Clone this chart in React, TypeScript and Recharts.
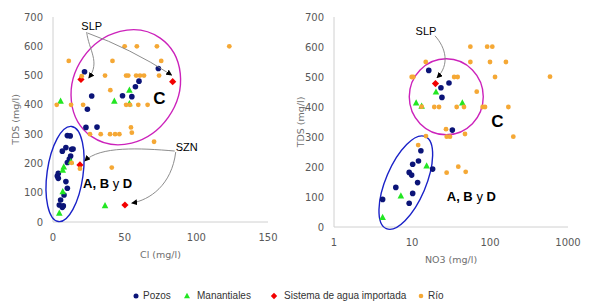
import React from "react";
import { ScatterChart, Scatter, XAxis, YAxis, ReferenceDot } from "recharts";

type Pt = [number, number];

// left chart: [Cl (mg/l), TDS (mg/l)]
const clPozos: Pt[] = [
  [22, 513], [73.5, 524], [60, 481], [57.5, 462], [48.5, 431], [55, 428], [27, 430], [24, 385], [23, 323], [30.7, 324],
  [10, 295], [12, 294], [6.5, 242], [9, 254], [13, 248], [14, 249], [12.3, 225], [11.4, 215], [10, 203],
  [3.7, 166], [3, 157], [3.7, 149], [9, 138], [10, 115], [7.7, 92], [5.3, 75], [4.4, 58], [7.2, 55], [6.5, 50],
];
const clManantiales: Pt[] = [
  [5.3, 413], [42.8, 413], [53.3, 450], [53.3, 404], [36.3, 56], [4.4, 30], [6.8, 104], [6.8, 177], [7.5, 188], [12.5, 206],
];
const clSistema: Pt[] = [[19.5, 487], [83.5, 479], [18.8, 195], [50.2, 58]];
const clRio: Pt[] = [
  [123, 600], [11, 550], [41.5, 550], [50, 600], [58.5, 600], [72.5, 600], [75.5, 550],
  [36.3, 500], [51, 500], [52.5, 500], [58, 500], [60.7, 500], [63.5, 500], [74, 500], [20, 498], [40, 450],
  [2.6, 400], [12.6, 400], [21, 400], [51, 400], [53.7, 400], [59.5, 400], [66, 400],
  [25.8, 300], [33.3, 300], [39.8, 300], [43.3, 300], [46.3, 300], [54.4, 323], [55, 305], [70.5, 274],
  [41, 186], [13, 202], [18.8, 182],
];

// right chart: [NO3 (mg/l), TDS (mg/l)]
const no3Pozos: Pt[] = [
  [16.4, 522], [29.8, 480], [23.5, 464], [24.2, 432], [32.9, 323], [13, 254], [12.1, 220], [10.2, 209],
  [9.2, 182], [9.9, 173], [18.4, 193], [11.8, 148], [6.2, 132], [10.2, 112], [4.2, 92], [9.2, 79],
];
const no3Manantiales: Pt[] = [[20.3, 450], [11.3, 414], [13.3, 403], [44.2, 414], [15.4, 204], [7.2, 104], [4.2, 32]];
const no3Sistema: Pt[] = [[20, 478]];
const no3Rio: Pt[] = [
  [15, 550], [56, 601], [92, 601], [107, 601], [56, 550], [100, 550], [160, 550], [588, 501], [116, 500],
  [9.9, 500], [10.4, 500], [34.7, 500], [38.5, 500], [67.6, 451], [13.3, 401], [19.3, 400], [22.2, 400],
  [37.4, 400], [46.4, 400], [80.5, 400], [86.3, 400], [172, 400], [27.3, 326], [27.9, 301], [30.7, 301],
  [47.8, 310], [199, 301], [15.1, 303], [12, 273], [27.8, 181], [39.2, 201], [48.8, 184],
];

const tdsTicks = [0, 100, 200, 300, 400, 500, 600, 700];
const clTicks = [0, 50, 100, 150];
const no3Ticks = [1, 10, 100, 1000];

const legendItems = ["Pozos", "Manantiales", "Sistema de agua importada", "Río"];

const NAVY = "#0B1478";
const GREEN = "#22E622";
const RED = "#F20000";
const ORANGE = "#F5A835";
const MAGENTA = "#CC22BB";
const BLUE = "#1A22C8";

const rows = (pts: Pt[]) => pts.map(([x, y]) => ({ x, y }));

const circle = (fill: string, r: number) => (p: any) => <circle cx={p.cx} cy={p.cy} r={r} fill={fill} />;
const triangle = (p: any) => (
  <polygon points={`${p.cx},${p.cy - 3.6} ${p.cx + 3.3},${p.cy + 2.6} ${p.cx - 3.3},${p.cy + 2.6}`} fill={GREEN} />
);
const diamond = (p: any) => (
  <polygon points={`${p.cx},${p.cy - 3.6} ${p.cx + 3.6},${p.cy} ${p.cx},${p.cy + 3.6} ${p.cx - 3.6},${p.cy}`} fill={RED} />
);

const ring = (rx: number, ry: number, rot: number, stroke: string) => (p: any) => (
  <ellipse cx={p.cx} cy={p.cy} rx={rx} ry={ry} transform={`rotate(${rot} ${p.cx} ${p.cy})`}
    fill="none" stroke={stroke} strokeWidth={1.4} />
);

const ah = (id: string) => (
  <defs>
    <marker id={id} viewBox="0 0 10 10" refX="9" refY="5" markerWidth="6" markerHeight="6"
      markerUnits="userSpaceOnUse" orient="auto">
      <path d="M0,0 L10,5 L0,10 z" fill="#000" />
    </marker>
  </defs>
);

// text label with arrows, arrow paths are offsets from the label anchor
const callout = (text: string, id: string, paths: string[]) => (p: any) => {
  const { cx, cy } = p;
  const shift = (d: string) =>
    d.replace(/(-?\d+(\.\d+)?),(-?\d+(\.\d+)?)/g, (_m, a, _b, c) => `${cx + Number(a)},${cy + Number(c)}`);
  return (
    <g>
      {ah(id)}
      <text x={cx} y={cy} textAnchor="middle" dominantBaseline="central" fontSize={11}
        fontFamily="Liberation Sans, Arial, sans-serif" fill="#000">{text}</text>
      {paths.map((d, i) => (
        <path key={i} d={shift(d)} fill="none" stroke="#808080" strokeWidth={0.9} markerEnd={`url(#${id})`} />
      ))}
    </g>
  );
};

const bigC = (p: any) => (
  <text x={p.cx} y={p.cy} textAnchor="middle" dominantBaseline="central" fontSize={17} fontWeight="bold"
    fontFamily="Liberation Sans, Arial, sans-serif" fill="#000">C</text>
);
const groupLabel = (p: any) => (
  <text x={p.cx} y={p.cy} dominantBaseline="central" fontSize={13} fontWeight="bold"
    fontFamily="Liberation Sans, Arial, sans-serif" fill="#000">
    A, B <tspan fontWeight="normal">y</tspan> D
  </text>
);

const tick = { fontSize: 10, fill: "#595959", fontFamily: "DejaVu Sans, sans-serif" };
const axisLine = { stroke: "#D0D0D0" };
const titleStyle = { fontSize: 9.5, fill: "#6f6f6f", fontFamily: "DejaVu Sans, sans-serif" };

function LegendRow() {
  const lefts = [132, 183, 270, 417];
  const icons = [
    <circle cx={4} cy={4} r={2.5} fill={NAVY} />,
    <polygon points="4,0.8 7,6.2 1,6.2" fill={GREEN} />,
    <polygon points="4,0.8 7.2,4 4,7.2 0.8,4" fill={RED} />,
    <circle cx={4} cy={4} r={2.3} fill={ORANGE} />,
  ];
  return (
    <>
      {legendItems.map((name, i) => (
        <div key={name} style={{ position: "absolute", left: lefts[i], top: 290, display: "flex", alignItems: "center",
          fontFamily: "Liberation Sans, Arial, sans-serif", fontSize: 10, color: "#333" }}>
          <svg width={8} height={8} style={{ marginRight: i === 0 || i === 3 ? 3 : 6 }}>{icons[i]}</svg>
          <span>{name}</span>
        </div>
      ))}
    </>
  );
}

export default function App() {
  return (
    <div style={{ position: "absolute", left: 0, top: 0, width: 589, height: 308, background: "#fff", overflow: "hidden" }}>
      <div style={{ position: "absolute", left: 0, top: 0 }}>
        <ScatterChart width={290} height={262} margin={{ top: 17, right: 22, bottom: 0, left: 0 }}>
          <XAxis type="number" dataKey="x" domain={[0, 150]} ticks={clTicks} allowDataOverflow
            tick={tick} tickLine={false} axisLine={axisLine} tickMargin={6} height={40}
            label={{ value: "Cl (mg/l)", position: "insideBottom", offset: 4, ...titleStyle }} />
          <YAxis type="number" dataKey="y" domain={[0, 700]} ticks={tdsTicks} allowDataOverflow
            tick={tick} tickLine={false} axisLine={axisLine} tickMargin={4} width={53}
            label={{ value: "TDS (mg/l)", angle: -90, position: "center", dx: -11, ...titleStyle }} />
          <ReferenceDot x={50.8} y={460} r={0} shape={ring(52, 60, 35, MAGENTA)} />
          <ReferenceDot x={8.4} y={164} r={0} shape={ring(18, 48, 8, BLUE)} />
          <Scatter data={rows(clPozos)} isAnimationActive={false} shape={circle(NAVY, 2.8)} />
          <Scatter data={rows(clManantiales)} isAnimationActive={false} shape={triangle} />
          <Scatter data={rows(clSistema)} isAnimationActive={false} shape={diamond} />
          <Scatter data={rows(clRio)} isAnimationActive={false} shape={circle(ORANGE, 2.4)} />
          <ReferenceDot x={27} y={669} r={0}
            shape={callout("SLP", "ahL1", ["M-5,6 C-3,24 9,36 -3,52", "M-4,7 Q38,22 80,49"])} />
          <ReferenceDot x={93.3} y={256} r={0}
            shape={callout("SZN", "ahL2", ["M-12,4 C-47,1 -87,-1 -102,14", "M-11,5 C-15,38 -37,53 -55,56"])} />
          <ReferenceDot x={74.2} y={422} r={0} shape={bigC} />
          <ReferenceDot x={21} y={133} r={0} shape={groupLabel} />
        </ScatterChart>
      </div>
      <div style={{ position: "absolute", left: 295, top: 0 }}>
        <ScatterChart width={294} height={267} margin={{ top: 17, right: 21, bottom: 0, left: 0 }}>
          <XAxis type="number" dataKey="x" scale="log" domain={[1, 1000]} ticks={no3Ticks} allowDataOverflow
            tick={tick} tickLine={false} axisLine={axisLine} tickMargin={6} height={40}
            label={{ value: "NO3 (mg/l)", position: "insideBottom", offset: 4, ...titleStyle }} />
          <YAxis type="number" dataKey="y" domain={[0, 700]} ticks={tdsTicks} allowDataOverflow
            tick={tick} tickLine={false} axisLine={axisLine} tickMargin={4} width={39}
            label={{ value: "TDS (mg/l)", angle: -90, position: "center", dx: -14, ...titleStyle }} />
          <ReferenceDot x={27.5} y={434} r={0} shape={ring(37, 38, 0, MAGENTA)} />
          <ReferenceDot x={8.33} y={148} r={0} shape={ring(20, 50, 23, BLUE)} />
          <Scatter data={rows(no3Pozos)} isAnimationActive={false} shape={circle(NAVY, 2.8)} />
          <Scatter data={rows(no3Manantiales)} isAnimationActive={false} shape={triangle} />
          <Scatter data={rows(no3Sistema)} isAnimationActive={false} shape={diamond} />
          <Scatter data={rows(no3Rio)} isAnimationActive={false} shape={circle(ORANGE, 2.4)} />
          <ReferenceDot x={15.1} y={654} r={0}
            shape={callout("SLP", "ahR1", ["M9,5 C20,17 24,34 11,47"])} />
          <ReferenceDot x={124} y={351} r={0} shape={bigC} />
          <ReferenceDot x={27.9} y={103} r={0} shape={groupLabel} />
        </ScatterChart>
      </div>
      <LegendRow />
    </div>
  );
}
